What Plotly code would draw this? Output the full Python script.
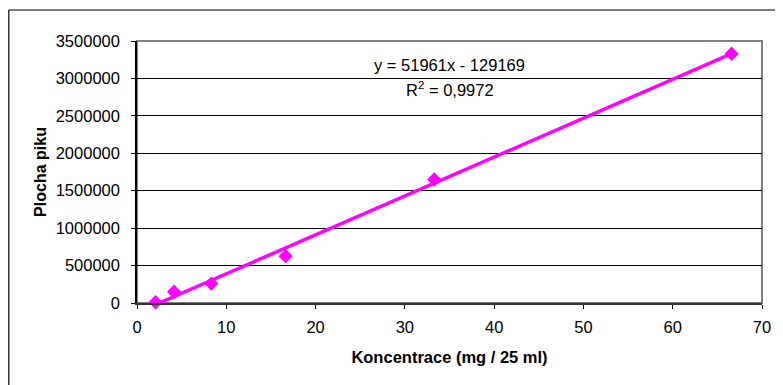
import plotly.graph_objects as go

# Data
koncentrace = [2.08, 4.16, 8.33, 16.65, 33.3, 66.6]
plocha = [10000, 150000, 260000, 625000, 1650000, 3330000]

# Trendline (Excel linear fit as displayed)
slope = 51961
intercept = -129169
r2_text = "0,9972"
x_ticks = [0, 10, 20, 30, 40, 50, 60, 70]
y_ticks = [0, 500000, 1000000, 1500000, 2000000, 2500000, 3000000, 3500000]

MAG = "#FF00FF"
FONT = "Liberation Sans, Arial, sans-serif"

x_start = max(min(koncentrace), -intercept / slope)
x_end = max(koncentrace)
trend_x = [x_start, x_end]
trend_y = [slope * v + intercept for v in trend_x]

fig = go.Figure()
fig.add_trace(go.Scatter(x=trend_x, y=trend_y, mode="lines",
                         line=dict(color=MAG, width=3.5), showlegend=False,
                         hoverinfo="skip", cliponaxis=False))
fig.add_trace(go.Scatter(x=koncentrace, y=plocha, mode="markers",
                         marker=dict(symbol="diamond", size=11, color=MAG),
                         showlegend=False, cliponaxis=False))

# page has an 8px body margin, so figure origin is at (8, 8) on screen
OX, OY = 8, 8
W, H = 775, 377
PL, PR, PT, PB = 137, 766, 41, 303  # plot area on screen
L, R, T, B = PL - OX, (OX + W) - PR, PT - OY, (OY + H) - PB
pw, ph = PR - PL, PB - PT

def px2paper_x(px):
    return (px - PL) / pw

def px2paper_y(py):
    return (PB - py) / ph

fig.update_layout(
    width=W, height=H,
    margin=dict(l=L, r=R, t=T, b=B, pad=0),
    paper_bgcolor="white", plot_bgcolor="white",
    font=dict(family=FONT, size=16.5, color="black"),
    xaxis=dict(range=[0, 70], tickvals=x_ticks, ticks="outside", ticklen=4,
               tickcolor="black", showgrid=False, zeroline=False,
               showline=True, linecolor="#333333", linewidth=1.5,
               ticklabelstandoff=4,
               title=dict(text="<b>Koncentrace (mg / 25 ml)</b>", font=dict(size=16.5), standoff=17),
               tickfont=dict(size=16.5)),
    yaxis=dict(range=[0, 3500000], tickvals=y_ticks, tickformat="d",
               ticks="outside", ticklen=4, tickcolor="black",
               showgrid=True, gridcolor="black", gridwidth=1,
               zeroline=False, showline=True, linecolor="black", linewidth=1.5,
               ticklabelstandoff=8,
               title=dict(text="<b>Plocha piku</b>", font=dict(size=16), standoff=5),
               tickfont=dict(size=16.5)),
    shapes=[
        dict(type="rect", xref="paper", yref="paper", x0=0, x1=1, y0=0, y1=1,
             line=dict(color="#808080", width=2), layer="below"),
        dict(type="line", xref="paper", yref="paper",
             x0=px2paper_x(8), x1=px2paper_x(800), y0=px2paper_y(10), y1=px2paper_y(10),
             line=dict(color="black", width=1.2)),
        dict(type="line", xref="paper", yref="paper",
             x0=px2paper_x(8), x1=px2paper_x(8), y0=px2paper_y(10), y1=px2paper_y(400),
             line=dict(color="black", width=1.2)),
    ],
    annotations=[
        dict(text=f"y = {slope}x - {abs(intercept)}", xref="paper", yref="paper",
             x=px2paper_x(452), y=px2paper_y(65), showarrow=False,
             xanchor="center", yanchor="middle", font=dict(size=16.5)),
        dict(text=f"R<sup>2</sup> = {r2_text}", xref="paper", yref="paper",
             x=px2paper_x(452), y=px2paper_y(89), showarrow=False,
             xanchor="center", yanchor="middle", font=dict(size=16.5)),
    ],
)

fig.write_html("out.html")
